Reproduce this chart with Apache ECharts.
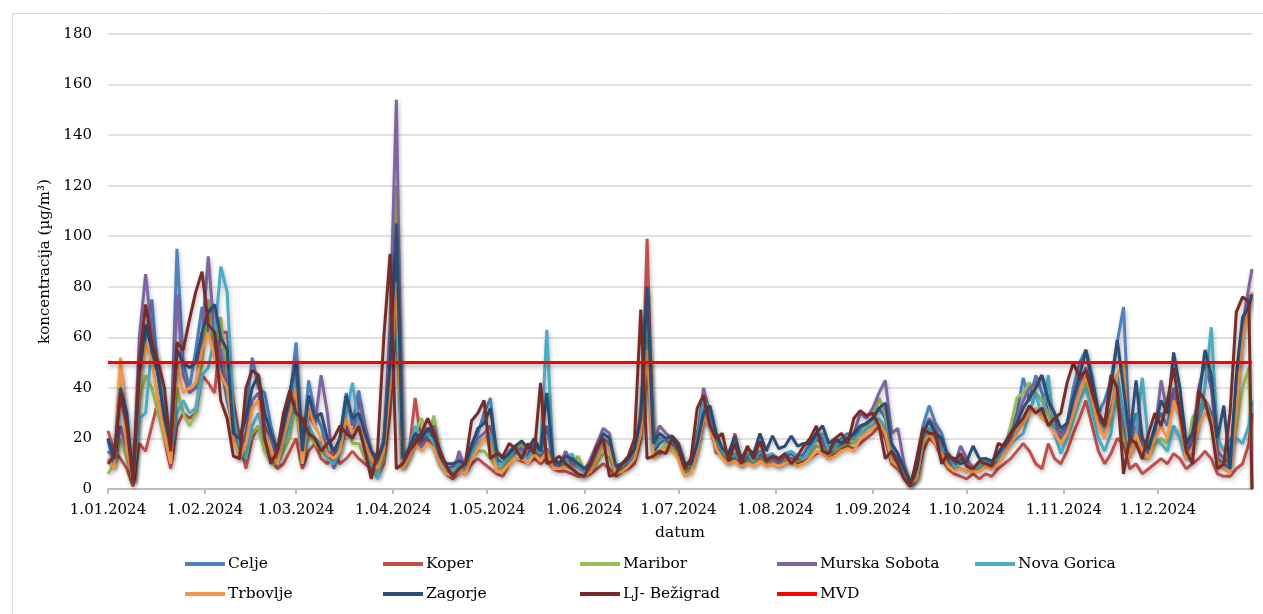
<!DOCTYPE html>
<html>
<head>
<meta charset="utf-8">
<script src="https://cdn.jsdelivr.net/npm/echarts@6/dist/echarts.min.js"></script>
<style>html,body{margin:0;padding:0;background:#fff}#c{width:1263px;height:614px}</style>
</head>
<body>
<div id="c"></div>
<script>
// ---- data (values sampled every 2nd day: days 0,2,...,364 and 365) ----
const seriesNames = ['Celje','Koper','Maribor','Murska Sobota','Nova Gorica','Trbovlje','Zagorje','LJ- Bežigrad','MVD'];
const seriesColors = ['#4F81BD','#C0504D','#9BBB59','#8064A2','#4BACC6','#F79646','#2C4D75','#772C2A','#FF0000'];
const yTicks = [0,20,40,60,80,100,120,140,160,180];
const mvdLimit = 50;

const celje = [
20,8,45,25,4,40,60,75,45,30,
15,95,50,40,55,72,62,58,50,35,
25,20,30,52,40,38,25,15,20,35,
58,15,43,30,25,15,12,20,38,25,
39,25,15,10,20,50,95,12,15,22,
18,24,20,12,8,9,12,10,18,22,
30,36,12,10,15,17,16,14,18,14,
25,11,10,14,10,9,8,10,15,20,
18,8,10,12,15,20,60,15,18,20,
18,16,8,10,22,33,30,20,15,12,
14,10,13,12,15,12,13,11,13,14,
12,14,18,22,20,16,18,20,22,20,
24,26,28,32,28,15,12,8,3,6,
25,33,26,22,12,10,12,10,8,10,
12,10,14,18,22,30,44,35,45,38,
30,25,22,26,40,50,55,45,30,35,
43,58,72,20,30,20,15,25,30,25,
40,30,15,18,28,35,30,12,10,8,
30,60,76,77];
const koper = [
23,15,12,8,1,18,15,25,35,20,
8,25,30,28,30,45,42,38,62,62,
35,20,8,20,25,15,12,8,10,15,
20,8,15,18,12,10,15,10,12,15,
12,10,8,5,10,30,70,10,14,36,
18,20,16,10,6,4,7,6,10,12,
10,8,6,5,10,12,11,10,12,10,
12,8,7,7,6,5,5,6,8,10,
8,5,7,8,10,20,99,15,14,18,
20,14,7,8,15,28,25,16,13,10,
22,10,12,10,12,11,10,9,10,11,
10,11,12,14,15,12,14,16,17,16,
18,20,22,25,20,10,8,5,2,4,
15,20,18,12,8,6,5,4,6,4,
6,5,8,10,12,15,18,15,10,8,
18,12,10,15,22,28,35,25,15,10,
14,20,18,8,10,6,8,10,12,10,
14,12,8,10,12,15,12,6,5,5,
8,10,18,30];
const maribor = [
6,10,20,12,4,35,45,40,30,20,
12,40,30,25,30,50,75,55,68,40,
28,12,14,22,25,15,10,10,15,20,
35,10,22,18,15,12,10,15,25,18,
18,12,10,5,12,60,120,8,12,22,
28,20,29,12,7,6,9,8,12,15,
15,12,8,8,12,14,18,13,14,12,
14,10,9,10,9,13,7,8,10,14,
12,6,8,10,13,32,60,14,15,18,
16,14,7,8,18,30,28,18,14,11,
12,10,12,10,13,10,12,10,11,12,
11,12,14,17,16,14,15,17,18,18,
20,24,28,36,30,14,10,6,2,4,
20,24,20,16,10,8,14,10,9,8,
10,9,12,16,25,36,38,42,38,35,
30,22,18,22,30,38,42,35,25,22,
28,35,20,14,20,12,12,18,20,18,
25,20,12,28,32,35,28,10,10,15,
25,40,48,0];
const murskaSobota = [
15,12,25,15,3,60,85,62,45,30,
15,77,45,38,40,60,92,60,55,40,
25,15,22,35,38,25,20,12,22,38,
52,12,30,25,45,30,8,15,25,20,
35,25,15,8,18,65,154,10,14,20,
16,22,25,10,7,5,15,8,15,20,
22,25,10,10,14,15,16,13,16,13,
16,10,9,15,10,9,7,12,18,24,
22,7,9,10,14,30,50,18,25,22,
20,18,8,12,20,40,30,14,16,12,
12,10,13,11,14,11,12,10,13,12,
12,13,16,20,18,15,17,18,20,22,
30,28,32,38,43,22,24,10,2,5,
22,28,24,18,11,9,17,12,8,10,
12,9,12,16,20,28,35,40,42,45,
35,28,20,24,35,42,48,40,28,24,
32,40,25,15,25,18,14,22,43,30,
38,30,15,20,40,50,40,15,12,10,
40,65,80,87];
const novaGorica = [
12,10,47,20,3,28,30,57,50,30,
12,30,35,30,32,45,48,60,88,78,
30,15,12,25,30,20,15,10,18,25,
45,10,25,20,18,12,10,15,30,42,
25,15,10,4,18,45,68,8,15,25,
20,22,18,10,8,7,10,8,14,18,
20,22,10,10,13,16,14,12,16,14,
63,12,10,11,14,9,7,9,14,18,
16,7,9,11,14,25,78,16,20,20,
19,16,8,10,20,35,32,20,15,12,
14,11,14,11,15,13,14,12,14,15,
13,12,16,20,22,15,17,19,21,20,
22,24,25,28,24,12,10,6,2,4,
20,24,20,16,14,9,8,7,8,9,
12,10,12,16,18,20,22,30,38,28,
45,22,14,20,28,35,40,30,20,15,
22,45,30,15,22,44,18,20,18,15,
25,20,12,15,25,40,64,20,15,20,
20,18,25,35];
const trbovlje = [
12,8,52,15,3,40,58,50,35,22,
10,50,38,40,42,55,62,52,45,40,
20,12,18,32,35,22,15,10,20,30,
40,10,32,25,20,14,12,15,28,22,
25,18,12,8,15,40,82,8,12,18,
15,18,16,10,6,5,7,6,12,16,
20,18,7,7,10,12,12,10,14,11,
15,8,8,9,8,6,5,7,12,18,
16,6,7,9,12,22,55,12,15,16,
15,12,5,6,15,28,25,16,12,10,
11,9,10,9,11,9,10,9,10,11,
9,10,12,15,14,12,13,15,16,15,
20,22,24,26,22,11,9,5,2,4,
18,22,18,14,9,7,8,7,7,7,
9,8,10,14,18,22,26,30,32,28,
26,22,18,22,30,38,45,36,25,20,
30,45,50,12,22,14,12,20,25,20,
35,28,12,16,25,30,28,10,8,6,
30,60,72,78];
const zagorje = [
20,12,40,30,3,45,65,55,45,28,
18,55,50,48,50,62,70,73,60,55,
22,20,28,40,45,30,22,15,25,38,
50,15,37,28,30,20,15,20,37,28,
30,22,15,12,18,50,105,12,16,22,
20,24,22,13,10,10,11,10,17,24,
26,32,15,12,14,17,19,16,20,15,
38,12,10,13,12,10,8,10,16,22,
20,9,10,12,16,28,80,18,22,20,
21,18,10,10,18,30,33,22,16,14,
21,12,16,14,22,15,21,16,17,21,
17,18,18,22,25,18,20,18,20,22,
25,26,28,32,34,18,14,8,2,8,
22,27,22,20,13,12,10,11,17,12,
12,11,14,18,22,26,32,36,40,45,
35,30,24,26,36,45,55,42,30,26,
40,59,40,20,43,20,16,24,35,30,
54,40,18,22,35,55,45,20,33,8,
45,68,72,77];
const ljBezigrad = [
10,13,38,25,3,50,73,58,50,40,
15,58,55,67,78,86,65,62,35,28,
13,12,40,47,45,20,10,15,30,39,
30,28,22,20,15,18,20,25,22,20,
25,15,4,15,60,93,8,10,15,18,
22,28,22,15,9,5,8,10,27,30,
35,12,14,13,18,16,12,18,14,42,
10,11,13,10,8,6,5,10,17,20,
5,6,10,13,20,71,12,13,15,14,
20,16,8,12,32,37,25,20,22,11,
18,10,17,12,19,11,13,12,14,10,
13,17,20,25,15,14,20,22,18,28,
31,29,30,25,12,15,10,4,1,12,
24,22,22,10,14,11,14,9,8,11,
10,9,18,17,22,25,28,33,30,32,
25,28,30,42,50,44,47,38,30,25,
45,40,6,20,18,12,22,30,25,35,
48,30,15,10,39,35,25,8,10,30,
70,76,74,0];

// ---- categories: every day of 2024 ----
const categories = [];
const t0 = Date.UTC(2024, 0, 1);
for (let i = 0; i < 366; i++) {
  const dt = new Date(t0 + i * 86400000);
  categories.push(dt.getUTCDate() + '.' + String(dt.getUTCMonth() + 1).padStart(2, '0') + '.' + dt.getUTCFullYear());
}
const sampleDays = [];
for (let d = 0; d <= 364; d += 2) sampleDays.push(d);
sampleDays.push(365);

function expand(vals) {
  const arr = new Array(categories.length).fill(null);
  sampleDays.forEach((d, i) => { arr[d] = vals[i]; });
  return arr;
}
const mvdData = new Array(categories.length).fill(null);
mvdData[0] = mvdLimit; mvdData[categories.length - 1] = mvdLimit;

const allValues = [celje, koper, maribor, murskaSobota, novaGorica, trbovlje, zagorje, ljBezigrad];

const FONT = 'DejaVu Serif';
const isMonthStart = (idx, val) => /^1\./.test(val);

const series = allValues.map((vals, i) => ({
  name: seriesNames[i], type: 'line', data: expand(vals), connectNulls: true,
  symbol: 'none', smooth: false,
  lineStyle: { width: 3, color: seriesColors[i], shadowColor: 'rgba(0,0,0,0.28)', shadowBlur: 4, shadowOffsetX: 1, shadowOffsetY: 2 },
  itemStyle: { color: seriesColors[i] }, emphasis: { disabled: true }, z: 2 + i
}));
series.push({
  name: 'MVD', type: 'line', data: mvdData, connectNulls: true, symbol: 'none',
  lineStyle: { width: 3, color: seriesColors[8], shadowColor: 'rgba(0,0,0,0.3)', shadowBlur: 4, shadowOffsetY: 3 },
  itemStyle: { color: seriesColors[8] }, emphasis: { disabled: true }, z: 20
});

const legendSlots = [
  [185, 556], [383, 556], [580, 556], [777, 556], [975, 556],
  [185, 586], [383, 586], [580, 586], [777, 586]
];
const legends = seriesNames.map((n, i) => ({
  data: [n], left: legendSlots[i][0], top: legendSlots[i][1], padding: 0,
  icon: 'rect', itemWidth: 40, itemHeight: 4, selectedMode: false,
  textStyle: { fontFamily: FONT, fontSize: 15.5, color: '#000', padding: [0, 0, 0, -2] }
}));

const chart = echarts.init(document.getElementById('c'));
chart.setOption({
  animation: false,
  backgroundColor: '#fff',
  graphic: [{ type: 'rect', left: 10, top: 11, shape: { width: 1251, height: 610 }, style: { fill: 'none', stroke: '#d9d9d9', lineWidth: 1 }, silent: true, z: -1 }],
  legend: legends,
  grid: { left: 108, right: 11, top: 34, bottom: 125, containLabel: false },
  xAxis: {
    type: 'category', data: categories, boundaryGap: false,
    axisLine: { lineStyle: { color: '#bfbfbf', width: 2 } },
    axisTick: { interval: isMonthStart, length: 5, lineStyle: { color: '#bfbfbf', width: 2 } },
    axisLabel: { interval: isMonthStart, fontFamily: FONT, fontSize: 15, color: '#000', margin: 14 },
    splitLine: { show: false },
    name: 'datum', nameLocation: 'middle', nameGap: 36,
    nameTextStyle: { fontFamily: FONT, fontSize: 15.5, color: '#000' }
  },
  yAxis: {
    type: 'value', min: yTicks[0], max: yTicks[yTicks.length - 1], interval: yTicks[1] - yTicks[0],
    axisLine: { show: false }, axisTick: { show: false },
    axisLabel: { fontFamily: FONT, fontSize: 15, color: '#000', margin: 16 },
    splitLine: { lineStyle: { color: '#d9d9d9', width: 1.5 } },
    name: 'koncentracija (µg/m³)', nameLocation: 'middle', nameGap: 55, nameRotate: 90,
    nameTextStyle: { fontFamily: FONT, fontSize: 15, color: '#000' }
  },
  series: series
});
</script>
</body>
</html>
